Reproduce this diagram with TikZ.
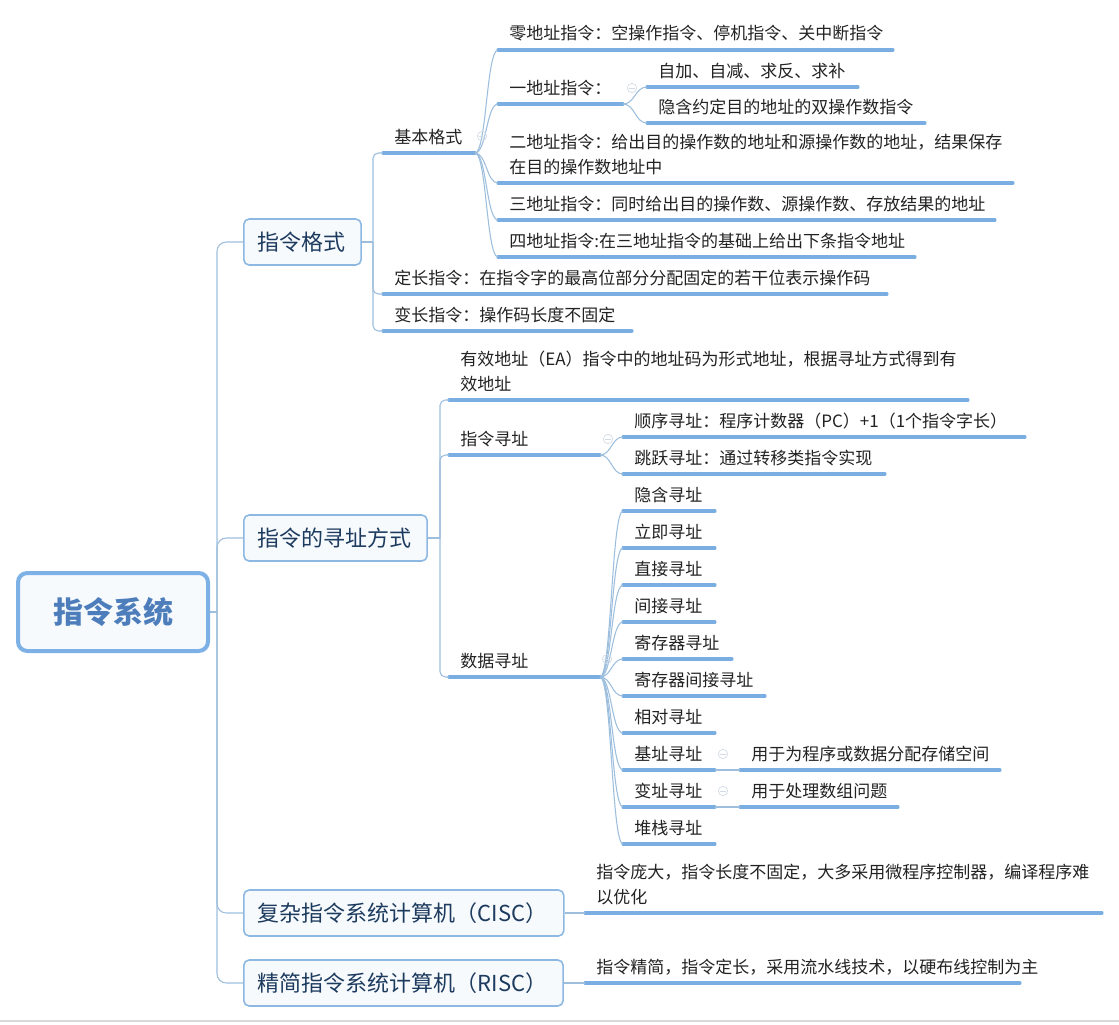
\documentclass[tikz,border=0pt]{standalone}
\usepackage{fontspec}
\setmainfont{Noto Sans CJK SC}
\usetikzlibrary{calc}
\definecolor{ulinecol}{HTML}{7AAEE2}
\definecolor{conncol}{HTML}{9DBEDD}
\definecolor{leafcol}{HTML}{222222}
\definecolor{boxcol}{HTML}{8DB8E2}
\definecolor{boxfill}{HTML}{F7FAFD}
\definecolor{topcol}{HTML}{1D3B5E}
\definecolor{rootcol}{HTML}{7DB1E6}
\definecolor{roottext}{HTML}{4D7EBB}
\definecolor{foldcol}{HTML}{D3DBE4}
\newcommand\mmleaf[6][10]{%
  \coordinate (#2-l) at (#3,#4);
  \coordinate (#2-r) at (#5,#4);
  \draw[uline] (#2-l) -- (#2-r);
  \node[leaf] (#2) at ($(#2-l)+(11,-#1)$) {#6};
}
\newcommand\mmcurve[2]{%
  \path ($(#1)!0.5!(#2)$) coordinate (mmmid);
  \draw[conn] (#1) .. controls (mmmid |- #1) and (mmmid |- #2) .. (#2);
}
\newcommand\mmelbow[3][4pt]{\draw[conn,rounded corners=#1] (#2) |- (#3);}
\begin{document}
\begin{tikzpicture}[x=0.75pt,y=-0.75pt,
  conn/.style={draw=conncol,line width=0.8pt},
  uline/.style={draw=ulinecol,line width=2.3pt,line cap=round},
  leaf/.style={anchor=base west,inner sep=0pt,text=leafcol,font=\fontsize{12.75}{18.5}\selectfont,align=left},
  topbox/.style={draw=boxcol,line width=1.2pt,fill=boxfill,rounded corners=4pt,text=topcol,
    font=\fontsize{16.5}{20}\selectfont,anchor=west,inner xsep=10.5pt,inner ysep=0pt,minimum height=34.5pt,align=left},
  rootbox/.style={draw=rootcol,line width=3pt,fill=boxfill,rounded corners=7pt,text=roottext,
    font=\fontsize{22.5}{27}\selectfont\bfseries,minimum width=142.5pt,minimum height=58.5pt},
  fold/.style={circle,draw=foldcol,line width=0.5pt,minimum size=7pt,inner sep=0pt,
    path picture={\draw[foldcol,line width=0.5pt] ([xshift=-2pt]path picture bounding box.center) -- ([xshift=2pt]path picture bounding box.center);}}
]
\useasboundingbox (0,0) rectangle (1119,1024);
\draw[black!15,line width=0.8pt] (0,1021) -- (1119,1021);

% root and top-level boxes
\node[rootbox] (root) at (113,612) {指令系统};
\node[topbox,text width=67pt] (fmt) at (243,242) {指令格式};
\node[topbox,text width=116.5pt] (addr) at (243,538) {指令的寻址方式};
\node[topbox,text width=219pt] (cisc) at (243,913) {复杂指令系统计算机（CISC）};
\node[topbox,text width=218.5pt] (risc) at (243,983) {精简指令系统计算机（RISC）};

\coordinate (j0) at (217,612);
\draw[conn] (root.east) -- (j0);
\mmelbow[7pt]{j0}{fmt.west}
\mmelbow[7pt]{j0}{addr.west}
\mmelbow[7pt]{j0}{cisc.west}
\mmelbow[7pt]{j0}{risc.west}

% 指令格式 branch
\mmleaf{jbgs}{383}{153}{475}{基本格式}
\mmleaf{dczl}{383}{294}{887}{定长指令：在指令字的最高位部分分配固定的若干位表示操作码}
\mmleaf{bczl}{383}{331}{632}{变长指令：操作码长度不固定}
\coordinate (j1) at (373,242);
\draw[conn] (fmt.east) -- (j1);
\mmelbow{j1}{jbgs-l}
\mmelbow{j1}{dczl-l}
\mmelbow{j1}{bczl-l}

\mmleaf{l0}{498}{50}{893}{零地址指令：空操作指令、停机指令、关中断指令}
\mmleaf{l1}{498}{104}{623}{一地址指令：}
\mmleaf{l2}{498}{183}{1013}{二地址指令：给出目的操作数的地址和源操作数的地址，结果保存\\在目的操作数地址中}
\mmleaf{l3}{498}{220}{995}{三地址指令：同时给出目的操作数、源操作数、存放结果的地址}
\mmleaf{l4}{498}{257}{915}{四地址指令:在三地址指令的基础上给出下条指令地址}
\foreach \c in {l0,l1,l2,l3,l4} {\mmcurve{jbgs-r}{\c-l}}
\node[fold] (fjbgs) at (482,136) {};

\mmleaf{l1a}{647}{87}{858}{自加、自减、求反、求补}
\mmleaf{l1b}{647}{123}{925}{隐含约定目的地址的双操作数指令}
\mmcurve{l1-r}{l1a-l}
\mmcurve{l1-r}{l1b-l}
\node[fold] (fl1) at (632,88) {};

% 寻址方式 branch
\mmleaf{ea}{449}{400}{968}{有效地址（EA）指令中的地址码为形式地址，根据寻址方式得到有\\效地址}
\mmleaf{zlxz}{449}{455}{600}{指令寻址}
\mmleaf{sjxz}{449}{677}{600}{数据寻址}
\coordinate (j2) at (440,538);
\draw[conn] (addr.east) -- (j2);
\mmelbow{j2}{ea-l}
\mmelbow{j2}{zlxz-l}
\mmelbow{j2}{sjxz-l}

\mmleaf{sx}{623}{437}{1025}{顺序寻址：程序计数器（PC）+1（1个指令字长）}
\mmleaf{ty}{623}{474}{885}{跳跃寻址：通过转移类指令实现}
\mmcurve{zlxz-r}{sx-l}
\mmcurve{zlxz-r}{ty-l}
\node[fold] (fzl) at (608,439) {};

\mmleaf{d1}{623}{511}{715}{隐含寻址}
\mmleaf{d2}{623}{548}{715}{立即寻址}
\mmleaf{d3}{623}{585}{715}{直接寻址}
\mmleaf{d4}{623}{622}{715}{间接寻址}
\mmleaf{d5}{623}{659}{732}{寄存器寻址}
\mmleaf{d6}{623}{696}{765}{寄存器间接寻址}
\mmleaf{d7}{623}{733}{715}{相对寻址}
\mmleaf{d8}{623}{770}{715}{基址寻址}
\mmleaf{d9}{623}{807}{715}{变址寻址}
\mmleaf{d10}{623}{844}{715}{堆栈寻址}
\foreach \c in {d1,d2,d3,d4,d5,d6,d7,d8,d9,d10} {\mmcurve{sjxz-r}{\c-l}}
\node[fold] (fsj) at (607,659) {};

\mmleaf{d8c}{740}{770}{1000}{用于为程序或数据分配存储空间}
\mmleaf{d9c}{740}{807}{898}{用于处理数组问题}
\draw[conn] (d8-r) -- (d8c-l);
\draw[conn] (d9-r) -- (d9c-l);
\node[fold] (fd8) at (723,754) {};
\node[fold] (fd9) at (723,791) {};

% CISC / RISC
\mmleaf{ciscc}{585}{913}{1102}{指令庞大，指令长度不固定，大多采用微程序控制器，编译程序难\\以优化}
\mmleaf{riscc}{585}{983}{1020}{指令精简，指令定长，采用流水线技术，以硬布线控制为主}
\draw[conn] (cisc.east) -- (ciscc-l);
\draw[conn] (risc.east) -- (riscc-l);
\end{tikzpicture}
\end{document}
